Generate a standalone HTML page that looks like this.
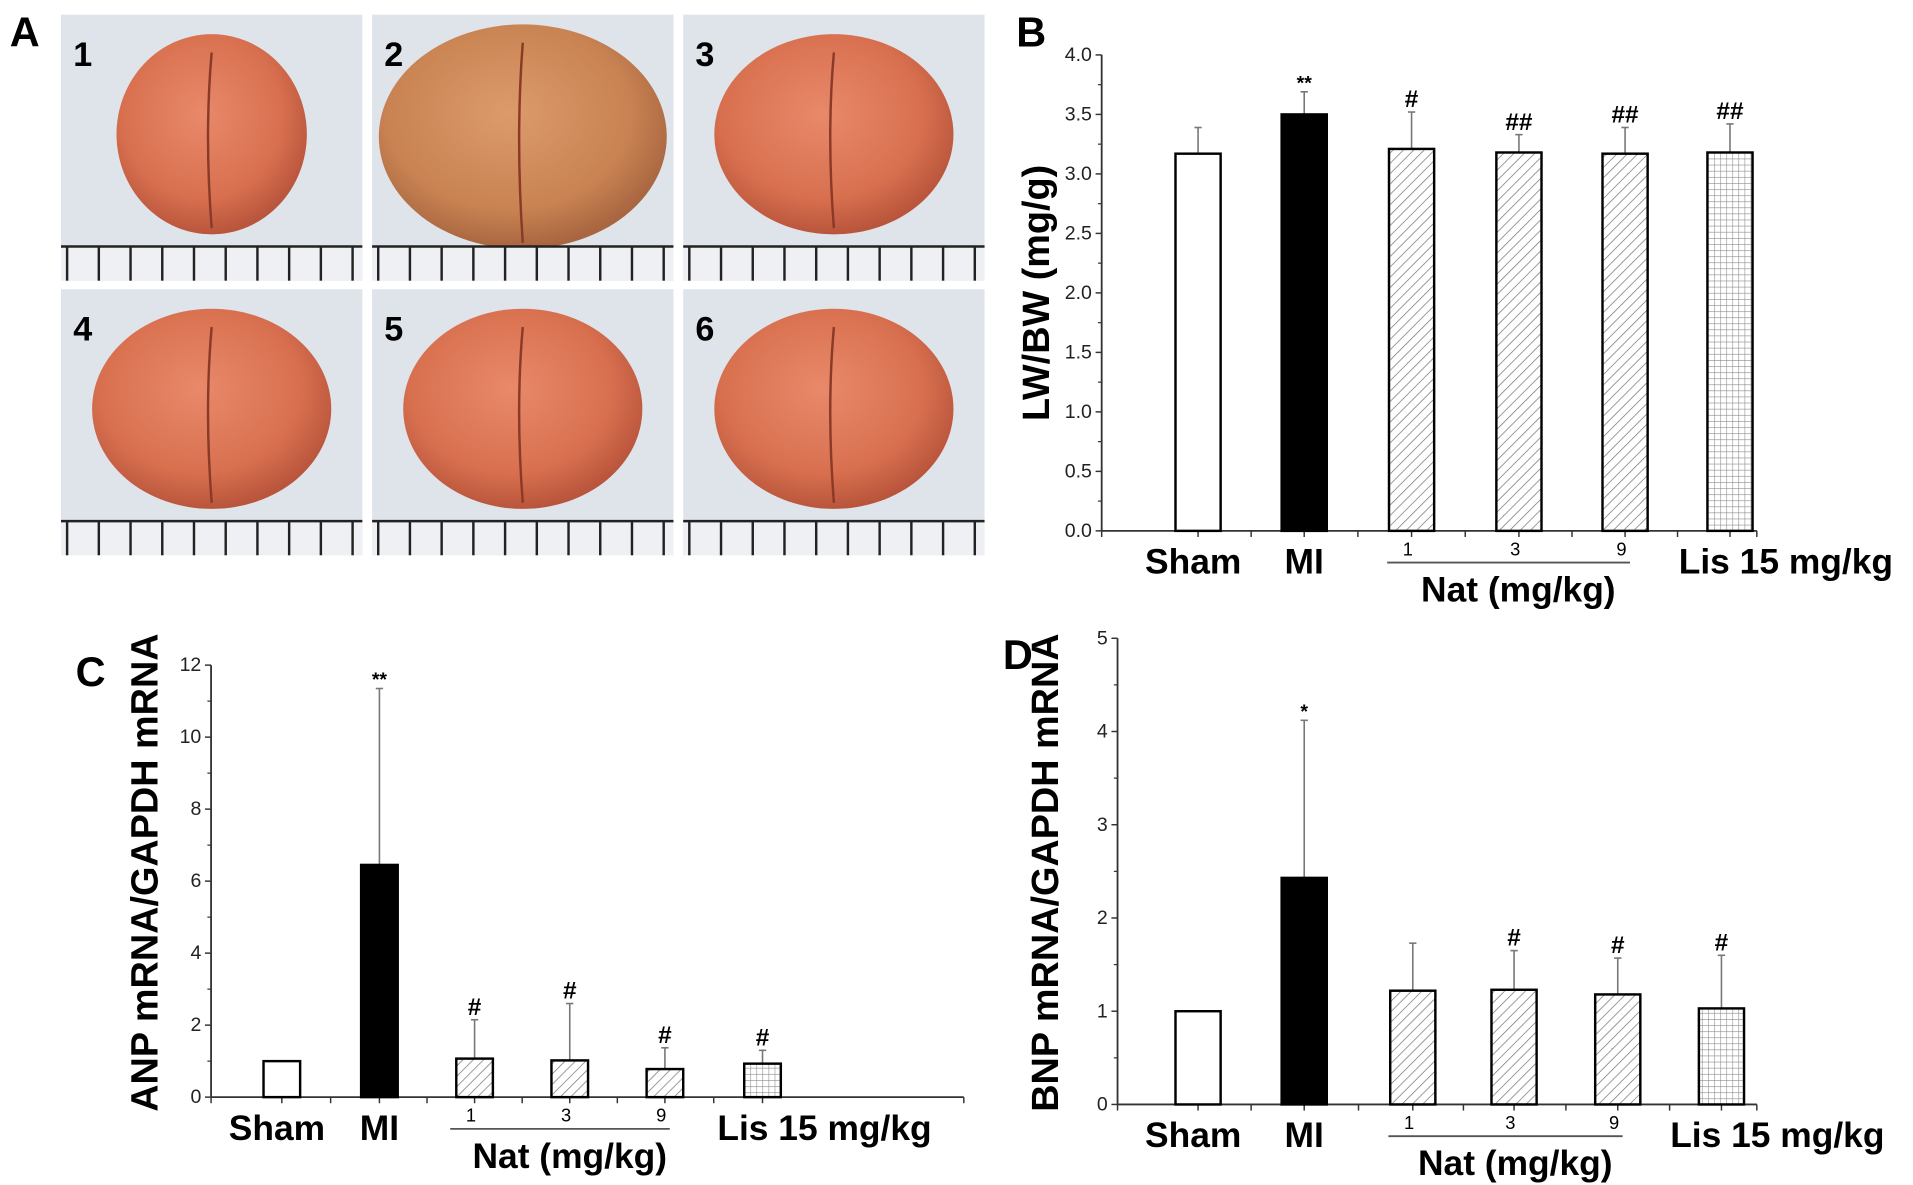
<!DOCTYPE html>
<html><head><meta charset="utf-8"><style>
html,body{margin:0;padding:0;background:#fff;}
svg{display:block;}
text{font-family:"Liberation Sans",sans-serif;}
</style></head><body>
<svg id="fig" width="1913" height="1185" viewBox="0 0 1568 971" preserveAspectRatio="none" xmlns="http://www.w3.org/2000/svg">
<defs>
<pattern id="hatch" width="6" height="6" patternUnits="userSpaceOnUse" patternTransform="rotate(45)"><rect width="6" height="6" fill="#fff"/><line x1="0" y1="0" x2="0" y2="6" stroke="#777" stroke-width="1.2"/></pattern>
<pattern id="grid" width="5" height="5" patternUnits="userSpaceOnUse"><rect width="5" height="5" fill="#fff"/><path d="M0 0H5M0 0V5" stroke="#888" stroke-width="0.9"/></pattern>
<radialGradient id="lung" cx="45%" cy="40%" r="60%"><stop offset="0" stop-color="#e8896a"/><stop offset="0.7" stop-color="#d8704f"/><stop offset="1" stop-color="#b9553c"/></radialGradient>
<radialGradient id="lung2" cx="45%" cy="40%" r="60%"><stop offset="0" stop-color="#dc9a6a"/><stop offset="0.7" stop-color="#c98353"/><stop offset="1" stop-color="#a8653f"/></radialGradient>
</defs>
<g id="panelA"></g>
<g id="panelB"></g>
<g id="panelC"></g>
<g id="panelD"></g>
</svg>
<script>
const categories = ["Sham","MI","1","3","9","Lis"];
const fills = ["#fff","#000","url(#hatch)","url(#hatch)","url(#hatch)","url(#grid)"];
const bValues = [3.17,3.50,3.21,3.18,3.17,3.18];
const bErrors = [0.22,0.19,0.31,0.15,0.22,0.24];
const bMarks = ["","**","#","##","##","##"];
const bTicks = ["0.0","0.5","1.0","1.5","2.0","2.5","3.0","3.5","4.0"];
const cValues = [1.0,6.45,1.07,1.02,0.78,0.93];
const cErrors = [0,4.9,1.08,1.58,0.59,0.37];
const cMarks = ["","**","#","#","#","#"];
const cTicks = ["0","2","4","6","8","10","12"];
const dValues = [1.0,2.43,1.22,1.23,1.18,1.03];
const dErrors = [0,1.69,0.51,0.42,0.39,0.57];
const dMarks = ["","*","","#","#","#"];
const dTicks = ["0","1","2","3","4","5"];

const NS="http://www.w3.org/2000/svg";
function mk(parent,tag,attrs,txt){const e=document.createElementNS(NS,tag);for(const k in attrs)e.setAttribute(k,attrs[k]);if(txt!==undefined)e.textContent=txt;parent.appendChild(e);return e;}

(function(){
  const g=document.getElementById('panelA');
  const t=mk(g,'text',{x:8,y:38,'font-size':34,'font-weight':'bold'},'A');
  
  
  const xs=[50,305,560], ys=[12,237];
  let n=1;
  for(let r=0;r<2;r++)for(let c=0;c<3;c++){
    const x=xs[c],y=ys[r],w=247,h=218;
    const pg=mk(g,'g',{});
    
    
    mk(pg,'rect',{x:x,y:y,width:w,height:h,fill:'#dfe3ea'});
    const big=(n===2);
    const rx=big?118:(n===1?78:98), ry=big?92:82;
    const cx=x+w/2, cy=y+(big?100:98);
    mk(pg,'ellipse',{cx:cx,cy:cy,rx:rx,ry:ry,fill:big?'url(#lung2)':'url(#lung)'});
    mk(pg,'path',{d:`M${cx} ${cy-ry+15} Q${cx-6} ${cy} ${cx} ${cy+ry-5}`,stroke:'#8a3a28','stroke-width':2,fill:'none'});
    const ry0=y+h-28;
    mk(pg,'rect',{x:x,y:ry0,width:w,height:28,fill:'#eef0f3'});
    mk(pg,'line',{x1:x,y1:ry0,x2:x+w,y2:ry0,stroke:'#222','stroke-width':2});
    for(let k=0;k<10;k++)mk(pg,'line',{x1:x+5+k*26,y1:ry0,x2:x+5+k*26,y2:y+h,stroke:'#222','stroke-width':2});
    const nl=mk(pg,'text',{x:x+10,y:y+42,'font-size':28,'font-weight':'bold'},String(n));
    
    
    n++;
  }
})();

function chart(cfg){
  const g=document.getElementById(cfg.id);
  const {ax,y0,yTop,vmax,xEnd,centers,bw,values,errors,marks,ticks}=cfg;
  const ys=v=>y0-(v/vmax)*(y0-yTop);
  const pl=mk(g,'text',{x:cfg.lx,y:cfg.ly,'font-size':34,'font-weight':'bold'},cfg.letter);
  
  
  const yaxis=mk(g,'line',{x1:ax,y1:yTop,x2:ax,y2:y0,stroke:'#333','stroke-width':1.5});
  
  
  const xaxis=mk(g,'line',{x1:ax,y1:y0,x2:xEnd,y2:y0,stroke:'#333','stroke-width':1.5});
  
  
  ticks.forEach((tk,i)=>{
    const v=parseFloat(tk), y=ys(v);
    mk(g,'line',{x1:ax-5,y1:y,x2:ax,y2:y,stroke:'#333','stroke-width':1.2});
    const tl=mk(g,'text',{x:ax-8,y:y+5,'font-size':cfg.tfs,'text-anchor':'end',fill:'#222'},tk);
    
    
    if(i<ticks.length-1){const m=ys(v+(parseFloat(ticks[1])-parseFloat(ticks[0]))/2);mk(g,'line',{x1:ax-3,y1:m,x2:ax,y2:m,stroke:'#333','stroke-width':1});}
  });
  for(let i=0;i<=centers.length;i++){
    const xx=i===0?ax:(i===centers.length?xEnd:(centers[i-1]+centers[i])/2);
    mk(g,'line',{x1:xx,y1:y0,x2:xx,y2:y0+5,stroke:'#333','stroke-width':1.2});
  }
  centers.forEach((c)=>mk(g,'line',{x1:c,y1:y0,x2:c,y2:y0+5,stroke:'#333','stroke-width':1.2}));
  values.forEach((v,i)=>{
    const c=centers[i];
    if(errors[i]>0){
      const e=mk(g,'line',{x1:c,y1:ys(v),x2:c,y2:ys(v+errors[i]),stroke:'#777','stroke-width':1.3});
      
      
      mk(g,'line',{x1:c-3,y1:ys(v+errors[i]),x2:c+3,y2:ys(v+errors[i]),stroke:'#777','stroke-width':1.3});
    }
    const b=mk(g,'rect',{x:c-bw/2,y:ys(v),width:bw,height:y0-ys(v),fill:fills[i],stroke:'#000','stroke-width':2});
    
    
    if(marks[i]){
      const star=marks[i].indexOf('*')>=0;
      const mt=mk(g,'text',{x:c,y:ys(v+errors[i])-(star?2:4),'font-size':star?16:20,'font-weight':'bold','text-anchor':'middle'},marks[i]);
      
      
    }
  });
  const lb=[["Sham",centers[0]-4],["MI",centers[1]]];
  lb.forEach(([s,x])=>{const t=mk(g,'text',{x:x,y:y0+35,'font-size':29,'font-weight':'bold','text-anchor':'middle'},s);
    
    });
  [2,3,4].forEach(i=>{const t=mk(g,'text',{x:centers[i]-3,y:y0+20,'font-size':15,'text-anchor':'middle'},categories[i]);
    
    });
  mk(g,'line',{x1:centers[2]-20,y1:y0+26,x2:centers[4]+4,y2:y0+26,stroke:'#555','stroke-width':1.5});
  const nt=mk(g,'text',{x:(centers[2]+centers[4])/2,y:y0+58,'font-size':29,'font-weight':'bold','text-anchor':'middle'},'Nat (mg/kg)');
  
  
  const ls=mk(g,'text',{x:centers[5]+cfg.lisOff,y:y0+35,'font-size':29,'font-weight':'bold'},'Lis 15 mg/kg');
  
  
  const yl=mk(g,'text',{x:0,y:0,'font-size':31,'font-weight':'bold','text-anchor':'middle',transform:`translate(${cfg.ylx},${cfg.yly}) rotate(-90)`},cfg.ylabel);
  
  
}

chart({id:'panelB',letter:'B',lx:833,ly:38,ax:903,y0:435,yTop:45,vmax:4,xEnd:1440,bw:37,lisOff:-42,
  centers:[982,1069,1157,1245,1332,1418],values:bValues,errors:bErrors,marks:bMarks,ticks:bTicks,tfs:16,
  ylabel:'LW/BW (mg/g)',ylx:860,yly:240});
chart({id:'panelC',letter:'C',lx:62,ly:562,ax:173,y0:899,yTop:545,vmax:12,xEnd:790,bw:30,lisOff:-37,
  centers:[231,311,389,467,545,625],values:cValues,errors:cErrors,marks:cMarks,ticks:cTicks,tfs:16,
  ylabel:'ANP mRNA/GAPDH mRNA',ylx:129,yly:715});
chart({id:'panelD',letter:'D',lx:822,ly:548,ax:916,y0:905,yTop:523,vmax:5,xEnd:1440,bw:37,lisOff:-42,
  centers:[982,1069,1158,1241,1326,1411],values:dValues,errors:dErrors,marks:dMarks,ticks:dTicks,tfs:16,
  ylabel:'BNP mRNA/GAPDH mRNA',ylx:867,yly:715});
</script>
</body></html>
